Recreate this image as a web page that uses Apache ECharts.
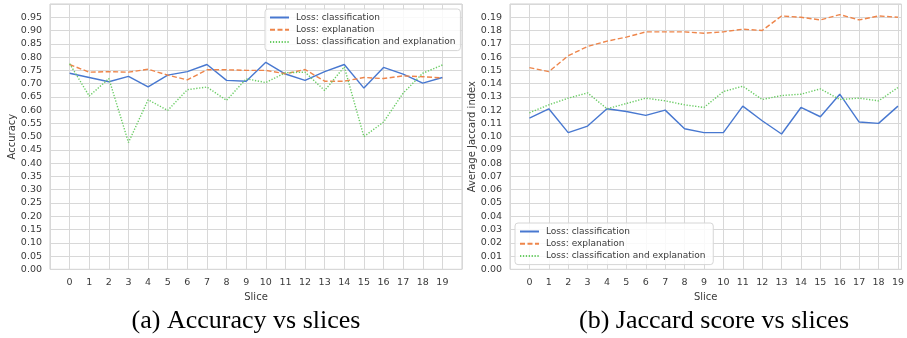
<!DOCTYPE html>
<html><head><meta charset="utf-8">
<script src="https://cdn.jsdelivr.net/npm/echarts@6/dist/echarts.min.js"></script>
<style>html,body{margin:0;padding:0;background:#fff}#c{width:907px;height:338px}</style>
</head><body><div id="c"></div>
<script>
const slices = [0,1,2,3,4,5,6,7,8,9,10,11,12,13,14,15,16,17,18,19];
const seriesNames = ['Loss: classification','Loss: explanation','Loss: classification and explanation'];
const accClassification = [0.739,0.723,0.707,0.727,0.688,0.732,0.745,0.772,0.712,0.709,0.780,0.736,0.712,0.745,0.772,0.683,0.761,0.736,0.702,0.723];
const accExplanation = [0.772,0.743,0.745,0.743,0.754,0.732,0.714,0.752,0.752,0.750,0.750,0.737,0.753,0.709,0.709,0.723,0.719,0.729,0.726,0.721];
const accBoth = [0.775,0.653,0.719,0.478,0.639,0.599,0.677,0.687,0.637,0.718,0.704,0.741,0.743,0.674,0.763,0.500,0.555,0.664,0.739,0.770];
const jacClassification = [0.114,0.121,0.103,0.108,0.121,0.119,0.116,0.120,0.106,0.103,0.103,0.123,0.112,0.102,0.122,0.115,0.132,0.111,0.110,0.123];
const jacExplanation = [0.152,0.149,0.161,0.168,0.172,0.175,0.179,0.179,0.179,0.178,0.179,0.181,0.180,0.191,0.190,0.188,0.192,0.188,0.191,0.190];
const jacBoth = [0.118,0.124,0.129,0.133,0.121,0.125,0.129,0.127,0.124,0.122,0.134,0.138,0.128,0.131,0.132,0.136,0.128,0.129,0.127,0.137];

const colors = ['#4878d0','#ee854a','#6acc64'];
const dashTypes = ['solid',[5,2.5],[1.3,1.6]];
const font = 'DejaVu Sans';
const tickColor = '#3a3a3a';
const gridColor = '#d8d8d8';

function xAxis(idx,max){
  return {type:'value', gridIndex:idx, min:-1, max:max, interval:1,
    name:'Slice', nameLocation:'middle', nameGap:17,
    nameTextStyle:{fontFamily:font,fontSize:10,color:tickColor},
    axisLine:{show:false}, axisTick:{show:false},
    axisLabel:{fontFamily:font,fontSize:9.5,color:tickColor,margin:8,showMinLabel:false,
      formatter:v=>(v>=0&&v<=19&&Number.isInteger(v))?String(slices[v]):''},
    splitLine:{show:true,lineStyle:{color:gridColor,width:1}}};
}
function yAxis(idx,name,max,interval,dec,gap){
  return {type:'value', gridIndex:idx, min:0, max:max, interval:interval,
    name:name, nameLocation:'middle', nameGap:gap,
    nameTextStyle:{fontFamily:font,fontSize:10,color:tickColor},
    axisLine:{show:false}, axisTick:{show:false},
    axisLabel:{fontFamily:font,fontSize:9.5,color:tickColor,margin:8,showMaxLabel:false,
      formatter:v=>v.toFixed(dec)},
    splitLine:{show:true,lineStyle:{color:gridColor,width:1}}};
}
function mk(idx,name,vals,k){
  return {type:'line', name:name, xAxisIndex:idx, yAxisIndex:idx,
    data:vals.map((v,i)=>[slices[i],v]), symbol:'none', animation:false,
    lineStyle:{color:colors[k],width:1.4,type:dashTypes[k]}, itemStyle:{color:colors[k],opacity:0}};
}
const legendCommon = {orient:'vertical', itemWidth:19, itemHeight:10, itemGap:3.3,
  padding:[4,5,4,4], backgroundColor:'rgba(255,255,255,0.85)', borderColor:'#d6d6d6', borderWidth:1, borderRadius:3,
  itemStyle:{opacity:0}, selectedMode:false,
  textStyle:{fontFamily:font,fontSize:9,color:tickColor,padding:[0,0,0,2]}};

const chart = echarts.init(document.getElementById('c'),null,{renderer:'canvas'});
chart.setOption({
  backgroundColor:'#fff',
  animation:false,
  grid:[
    {left:50,top:4,width:412,height:265.3,show:true,borderColor:'#cfcfcf',borderWidth:1},
    {left:510,top:4,width:397,height:265.3,show:true,borderColor:'#cfcfcf',borderWidth:1}
  ],
  xAxis:[xAxis(0,20),xAxis(1,19.18)],
  yAxis:[yAxis(0,'Accuracy',1.0,0.05,2,31), yAxis(1,'Average Jaccard index',0.2,0.01,2,30)],
  legend:[
    Object.assign({},legendCommon,{left:265,top:9,data:seriesNames.map(n=>({name:n}))}),
    Object.assign({},legendCommon,{left:515,top:223,data:seriesNames.map(n=>({name:n+' '}))})
  ],
  title:[
    {text:'(a) Accuracy vs slices', left:241, top:303, textAlign:'center',
      textStyle:{fontFamily:'Liberation Serif',fontSize:26,fontWeight:'normal',color:'#000'}},
    {text:'(b) Jaccard score vs slices', left:709, top:303, textAlign:'center',
      textStyle:{fontFamily:'Liberation Serif',fontSize:26,fontWeight:'normal',color:'#000'}}
  ],
  series:[
    mk(0,seriesNames[0],accClassification,0),
    mk(0,seriesNames[1],accExplanation,1),
    mk(0,seriesNames[2],accBoth,2),
    mk(1,seriesNames[0]+' ',jacClassification,0),
    mk(1,seriesNames[1]+' ',jacExplanation,1),
    mk(1,seriesNames[2]+' ',jacBoth,2)
  ]
});
</script></body></html>
